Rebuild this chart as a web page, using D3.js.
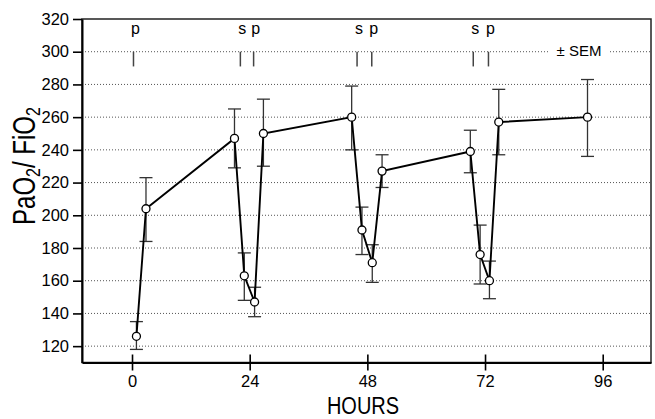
<!DOCTYPE html>
<html lang="en">
    <head>
        <meta charset="utf-8">
        <script src="https://cdn.jsdelivr.net/npm/d3@7"></script>
        <style type="text/css">
            body { margin: 0; background: white; }
            .axis path,
            .axis line {
                fill: none;
                stroke: black;
            }
            .axis text {
                font-family: "Liberation Sans", Arial, sans-serif;
                font-size: 16.5px;
                fill: black;
            }
        </style>
    </head>
    <body>
<script>

// hours after start, mean PaO2/FiO2 and the SEM bar ends
var hours = [0.9, 2.85, 20.9, 22.9, 25.0, 26.8, 44.8, 46.9, 49.0, 51.0, 69.0, 71.0, 72.9, 74.8, 92.9]
var means = [126, 204, 247, 163, 147, 250, 260, 191, 171, 227, 239, 176, 160, 257, 260]
var upper = [135, 223, 265, 177, 156, 271, 279, 205, 182, 237, 252, 194, 172, 277, 283]
var lower = [118, 184, 229, 148, 138, 230, 240, 176, 159, 217, 226, 158, 149, 237, 236]

// s / p events marked along the top
var eventLabels = ["p", "s", "p", "s", "p", "s", "p"]
var eventHours = [0.3, 22.1, 24.8, 45.9, 48.9, 69.6, 72.7]

var xTicks = [0, 24, 48, 72, 96]
var yTicks = [120, 140, 160, 180, 200, 220, 240, 260, 280, 300, 320]
var gridValues = [120, 140, 160, 180, 200, 220, 240, 260, 280, 300]

var margin = {top: 19, right: 4, bottom: 56.5, left: 82},
    width = 655 - margin.left - margin.right,
    height = 419 - margin.top - margin.bottom

var svg = d3.select("body")
            .append("svg")
            .attr("width", 655)
            .attr("height", 419)
            .append("g")
            .attr("transform", "translate(" + margin.left + "," + margin.top + ")");

var x = d3.scaleLinear()
          .domain([-10.2, 105.85])
          .range([0, width]);

var y = d3.scaleLinear()
          .domain([110, 320])
          .range([height, 0]);

var points = hours.map(function(h, i) {
    return {h: h, v: means[i], hi: upper[i], lo: lower[i]};
});

// dotted grid lines
svg.selectAll(".grid")
    .data(gridValues)
    .enter()
    .append("line")
    .attr("x1", 0)
    .attr("x2", width)
    .attr("y1", function(d) { return y(d); })
    .attr("y2", function(d) { return y(d); })
    .attr("stroke", "#555")
    .attr("stroke-width", 1)
    .attr("stroke-dasharray", "1,2");

// frame (top and right)
svg.append("rect")
    .attr("x", 0)
    .attr("y", 0)
    .attr("width", width)
    .attr("height", height)
    .attr("fill", "none")
    .attr("stroke", "#222")
    .attr("stroke-width", 1.5);

// x axis, ticks cross the line
var xAxis = svg.append("g")
    .attr("class", "axis")
    .attr("transform", "translate(0," + height + ")")
    .call(d3.axisBottom(x).tickValues(xTicks).tickSize(8).tickSizeOuter(0).tickPadding(5));
xAxis.select(".domain").attr("stroke-width", 2);
xAxis.selectAll(".tick line").attr("y1", -8).attr("stroke-width", 1.6);
xAxis.selectAll(".tick text").attr("font-size", "17px");

// y axis
var yAxis = svg.append("g")
    .attr("class", "axis")
    .call(d3.axisLeft(y).tickValues(yTicks).tickSize(9).tickSizeOuter(0).tickPadding(4));
yAxis.select(".domain").attr("stroke-width", 2);
yAxis.selectAll(".tick line").attr("stroke-width", 1.6);

// event markers
svg.selectAll(".evline")
    .data(eventHours)
    .enter()
    .append("line")
    .attr("x1", function(d) { return x(d); })
    .attr("x2", function(d) { return x(d); })
    .attr("y1", y(300))
    .attr("y2", y(291))
    .attr("stroke", "#444")
    .attr("stroke-width", 1.5);

svg.selectAll(".evtext")
    .data(eventHours)
    .enter()
    .append("text")
    .attr("x", function(d) { return x(d) + 2; })
    .attr("y", y(311))
    .attr("text-anchor", "middle")
    .attr("font-family", "Liberation Sans, Arial, sans-serif")
    .attr("font-size", "16px")
    .text(function(d, i) { return eventLabels[i]; });

// "± SEM" note over the 300 grid line
svg.append("rect")
    .attr("x", 548 - margin.left)
    .attr("y", y(300) - 10)
    .attr("width", 62)
    .attr("height", 20)
    .attr("fill", "white");
svg.append("text")
    .attr("x", 579 - margin.left)
    .attr("y", y(300) + 4)
    .attr("text-anchor", "middle")
    .attr("font-family", "Liberation Sans, Arial, sans-serif")
    .attr("font-size", "15px")
    .text("± SEM");

// error bars
var cap = 6.5
var bars = svg.selectAll(".err")
    .data(points)
    .enter()
    .append("g")
    .attr("stroke", "#333")
    .attr("stroke-width", 1.3);
bars.append("line")
    .attr("x1", function(d) { return x(d.h); })
    .attr("x2", function(d) { return x(d.h); })
    .attr("y1", function(d) { return y(d.hi); })
    .attr("y2", function(d) { return y(d.lo); });
bars.append("line")
    .attr("x1", function(d) { return x(d.h) - cap; })
    .attr("x2", function(d) { return x(d.h) + cap; })
    .attr("y1", function(d) { return y(d.hi); })
    .attr("y2", function(d) { return y(d.hi); });
bars.append("line")
    .attr("x1", function(d) { return x(d.h) - cap; })
    .attr("x2", function(d) { return x(d.h) + cap; })
    .attr("y1", function(d) { return y(d.lo); })
    .attr("y2", function(d) { return y(d.lo); });

// mean line
var line = d3.line()
    .x(function(d) { return x(d.h); })
    .y(function(d) { return y(d.v); });

svg.append("path")
    .datum(points)
    .attr("d", line)
    .attr("fill", "none")
    .attr("stroke", "black")
    .attr("stroke-width", 1.9);

svg.selectAll(".pt")
    .data(points)
    .enter()
    .append("circle")
    .attr("cx", function(d) { return x(d.h); })
    .attr("cy", function(d) { return y(d.v); })
    .attr("r", 4)
    .attr("fill", "white")
    .attr("stroke", "black")
    .attr("stroke-width", 1.3);

// axis titles (the original lettering is taller than it is wide)
svg.append("text")
    .attr("transform", "translate(" + (363 - margin.left) + "," + (414 - margin.top) + ") scale(1,1.22)")
    .attr("text-anchor", "middle")
    .attr("font-family", "Liberation Sans, Arial, sans-serif")
    .attr("font-size", "20px")
    .text("HOURS");

var ylab = svg.append("text")
    .attr("transform", "translate(" + (35 - margin.left) + "," + (166 - margin.top) + ") rotate(-90) scale(1,1.28)")
    .attr("text-anchor", "middle")
    .attr("font-family", "Liberation Sans, Arial, sans-serif")
    .attr("font-size", "24px");
ylab.append("tspan").text("PaO");
ylab.append("tspan").attr("font-size", "16px").attr("dy", 4).text("2");
ylab.append("tspan").attr("dy", -4).text("/ FiO");
ylab.append("tspan").attr("font-size", "16px").attr("dy", 4).text("2");

</script>

</body>
</html>
